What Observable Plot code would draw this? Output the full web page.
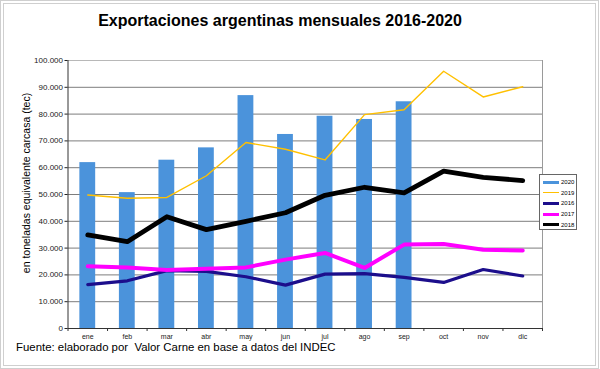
<!DOCTYPE html>
<html>
<head>
<meta charset="utf-8">
<script src="https://cdn.jsdelivr.net/npm/d3@7"></script>
<script src="https://cdn.jsdelivr.net/npm/@observablehq/plot@0.6"></script>
<style>
  html, body { margin: 0; padding: 0; background: #fff; }
  body { font-family: "Liberation Sans", Arial, sans-serif; }
  #wrap { position: relative; width: 600px; height: 369px; overflow: hidden; }
  #wrap svg { position: absolute; left: 0; top: 0; }
  .frame { position: absolute; border: 1px solid #cfcfcf; box-sizing: border-box; }
  #title { position: absolute; left: 0; width: 560px; top: 12px; text-align: center; font-weight: bold; font-size: 16px; color: #000; }
  #ylabel { position: absolute; left: 26px; top: 183px; transform: translate(-50%, -50%) rotate(-90deg); white-space: nowrap; font-size: 10.5px; color: #000; }
  #foot { position: absolute; left: 16px; top: 341px; white-space: pre; font-size: 11.4px; color: #000; }
  #legend { position: absolute; left: 539px; top: 174px; width: 38px; height: 56px; box-sizing: border-box; border: 1px solid #666; background: #fff; padding: 2px 0 0 3px; }
  .row { display: flex; align-items: center; height: 10.6px; font-size: 6px; }
  .sw { width: 16px; margin-right: 2px; }
</style>
</head>
<body>
<div id="wrap">
  <div class="frame" style="left:0px;top:0px;width:599px;height:369px;"></div>
  <div class="frame" style="left:3px;top:3px;width:593px;height:363px;"></div>
  <div id="chart"></div>
  <div id="title"></div>
  <div id="ylabel"></div>
  <div id="foot"></div>
  <div id="legend"></div>
</div>
<script>
const months = ["ene","feb","mar","abr","may","jun","jul","ago","sep","oct","nov","dic"];
const yTicks = [0, 10000, 20000, 30000, 40000, 50000, 60000, 70000, 80000, 90000, 100000];
const v2020 = [61900, 50700, 62800, 67400, 86900, 72400, 79200, 78000, 84600];
const v2019 = [49800, 48600, 48900, 57000, 69400, 66900, 62900, 79800, 81600, 96000, 86400, 90200];
const v2016 = [16400, 17800, 21600, 21300, 19300, 16200, 20300, 20500, 19100, 17200, 22000, 19600];
const v2017 = [23200, 22800, 21800, 22300, 22800, 25700, 28200, 22600, 31300, 31500, 29400, 29100];
const v2018 = [34900, 32400, 41700, 36900, 40000, 43200, 49700, 52700, 50600, 58700, 56400, 55200];

const titleText = "Exportaciones argentinas mensuales 2016-2020";
const yLabelText = "en toneladas equivalente carcasa (tec)";
const footText = "Fuente: elaborado por  Valor Carne en base a datos del INDEC";

const series = [
  {name: "2020", color: "#4b93db", width: 3, values: v2020, bar: true},
  {name: "2019", color: "#ffc000", width: 1.4, values: v2019},
  {name: "2016", color: "#1c0e8c", width: 3.2, values: v2016},
  {name: "2017", color: "#ff00ff", width: 4, values: v2017},
  {name: "2018", color: "#000000", width: 4.8, values: v2018}
];

const fmt = d => d3.format(",")(d).replace(/,/g, ".");

const barData = v2020.map((v, i) => ({i, v}));
const lineMarks = series.filter(s => !s.bar).map(s =>
  Plot.line(s.values.map((v, i) => ({i, v})), {
    x: d => d.i + 0.5, y: "v", stroke: s.color, strokeWidth: s.width,
    strokeLinejoin: "round", strokeLinecap: "round"
  })
);

const chart = Plot.plot({
  width: 600, height: 369,
  marginTop: 60, marginBottom: 41, marginLeft: 67.5, marginRight: 58,
  style: {fontFamily: "'Liberation Sans', Arial, sans-serif", background: "transparent"},
  x: {type: "linear", domain: [0, 12], axis: null},
  y: {domain: [0, 100000], axis: null},
  marks: [
    Plot.ruleY(yTicks.slice(1, -1), {stroke: "#7d7d7d", strokeWidth: 1}),
    Plot.ruleY([100000], {stroke: "#b8b8b8"}),
    Plot.ruleX([12], {stroke: "#9a9a9a"}),
    Plot.rectY(barData, {x1: d => d.i + 0.3, x2: d => d.i + 0.7, y1: 0, y2: "v", fill: "#4b93db"}),
    ...lineMarks,
    Plot.ruleX([0], {stroke: "#333"}),
    Plot.ruleY([0], {stroke: "#333"}),
    Plot.axisY({ticks: yTicks, tickFormat: fmt, tickSize: 3, tickPadding: 2, fontSize: 8, color: "#222", label: null}),
    Plot.axisX({ticks: d3.range(13), tickFormat: () => "", tickSize: 3, color: "#333", label: null}),
    Plot.axisX({ticks: months.map((m, i) => i + 0.5), tickFormat: t => months[Math.floor(t)], tickSize: 0, tickPadding: 6, fontSize: 7, color: "#222", label: null})
  ]
});
document.getElementById("chart").appendChild(chart);

document.getElementById("title").textContent = titleText;
document.getElementById("ylabel").textContent = yLabelText;
document.getElementById("foot").textContent = footText;

const legend = document.getElementById("legend");
for (const s of series) {
  const row = document.createElement("div");
  row.className = "row";
  const sw = document.createElement("div");
  sw.className = "sw";
  sw.style.height = "0";
  sw.style.borderTop = `${Math.min(s.width, 3)}px solid ${s.color}`;
  const lab = document.createElement("span");
  lab.textContent = s.name;
  row.appendChild(sw);
  row.appendChild(lab);
  legend.appendChild(row);
}
</script>
</body>
</html>
